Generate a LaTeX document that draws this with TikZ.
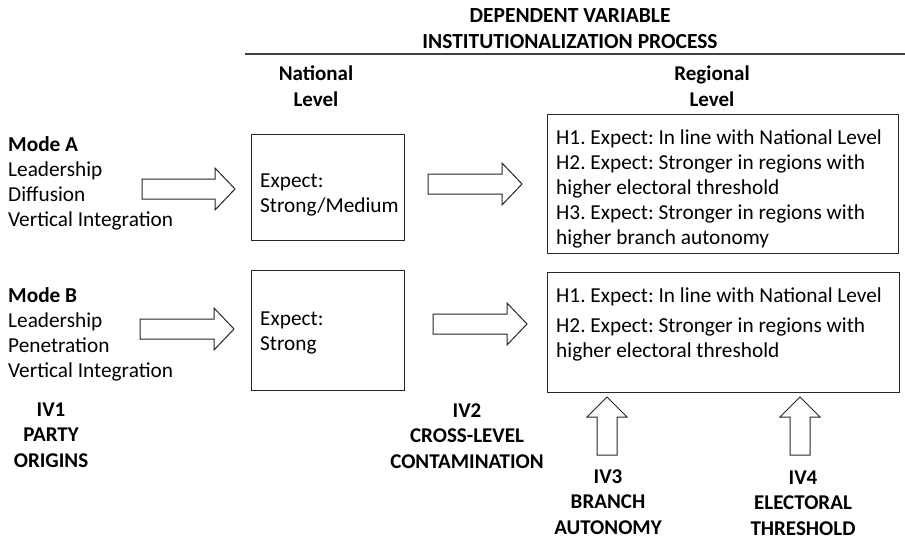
\documentclass[tikz,border=0pt]{standalone}
\usepackage{fontspec}
\setmainfont{Carlito}
\usetikzlibrary{calc}
\frenchspacing
\tikzset{
  txt/.style={inner sep=0pt, font=\fontsize{21.3}{25}\selectfont\frenchspacing, align=left},
  ctxt/.style={inner sep=0pt, font=\fontsize{21}{25.5}\selectfont\bfseries, align=center},
  frame/.style={draw=black!85, line width=1pt, inner sep=0pt, anchor=north west},
  blockarrow/.style={draw=black!85, line width=1pt, fill=white, line join=miter},
}
\newcommand\HArrow[2]{\draw[blockarrow] ($(#1)+(0,-10)$) -- ($(#2)+(-20,-10)$) -- ($(#2)+(-20,-21)$) -- (#2) -- ($(#2)+(-20,21)$) -- ($(#2)+(-20,10)$) -- ($(#1)+(0,10)$) -- cycle;}
\newcommand\VArrow[2]{\draw[blockarrow] ($(#1)+(-10,0)$) -- ($(#2)+(-10,20)$) -- ($(#2)+(-20,20)$) -- (#2) -- ($(#2)+(20,20)$) -- ($(#2)+(10,20)$) -- ($(#1)+(10,0)$) -- cycle;}
\begin{document}
\begin{tikzpicture}[x=1pt, y=-1pt]
\useasboundingbox[fill=white] (0,0) rectangle (905,541);

% header
\node[ctxt, font=\fontsize{21.5}{26}\selectfont\bfseries] (title) at (570,29) {DEPENDENT VARIABLE\\INSTITUTIONALIZATION PROCESS};
\coordinate (ls) at (245,54);
\coordinate (le) at (905,54);
\draw[line width=1.5pt, draw=black!75] (ls) -- (le);
\node[ctxt] (natl) at (316,86) {National\\Level};
\node[ctxt] (regl) at (712,86) {Regional\\Level};

% left column
\node[txt, anchor=west] (modeA) at (8,183.5) {\textbf{Mode A}\\Leadership\\Diffusion\\Vertical Integration};
\node[txt, anchor=west] (modeB) at (8,334) {\textbf{Mode B}\\Leadership\\Penetration\\Vertical Integration};
\node[ctxt] (iv1) at (51,435) {IV1\\PARTY\\ORIGINS};

% national boxes
\node[frame, minimum width=153pt, minimum height=106pt] (natA) at (251,134) {};
\node[txt, anchor=west] (natAt) at (260,195) {Expect:\\Strong/Medium};
\node[frame, minimum width=153pt, minimum height=120pt] (natB) at (251,270) {};
\node[txt, anchor=west] (natBt) at (260,333) {Expect:\\Strong};
\node[ctxt] (iv2) at (467,436) {IV2\\CROSS-LEVEL\\CONTAMINATION};

% regional boxes
\node[frame, minimum width=351pt, minimum height=139pt] (regA) at (547,114) {};
\node[txt, anchor=north west] (regAt) at (556,130) {H1. Expect: In line with National Level\\H2. Expect: Stronger in regions with\\higher electoral threshold\\H3. Expect: Stronger in regions with\\higher branch autonomy};
\node[frame, minimum width=352pt, minimum height=120pt] (regB) at (547,272) {};
\node[txt, anchor=north west] (regBt) at (556,288) {H1. Expect: In line with National Level\\[5pt]H2. Expect: Stronger in regions with\\higher electoral threshold};

\node[ctxt] (iv3) at (608,502) {IV3\\BRANCH\\AUTONOMY};
\node[ctxt] (iv4) at (803,503) {IV4\\ELECTORAL\\THRESHOLD};

% block arrows
\coordinate (a1s) at (142,189);
\coordinate (a1t) at (235,189);
\coordinate (b1s) at (140,329);
\coordinate (b1t) at (234,329);
\coordinate (a2s) at (428,184);
\coordinate (a2t) at (522,184);
\coordinate (b2s) at (433,324);
\coordinate (b2t) at (527,324);
\coordinate (v3s) at (607,455);
\coordinate (v3t) at (607,397);
\coordinate (v4s) at (800,455);
\coordinate (v4t) at (800,397);
\HArrow{a1s}{a1t}
\HArrow{b1s}{b1t}
\HArrow{a2s}{a2t}
\HArrow{b2s}{b2t}
\VArrow{v3s}{v3t}
\VArrow{v4s}{v4t}
\end{tikzpicture}
\end{document}
